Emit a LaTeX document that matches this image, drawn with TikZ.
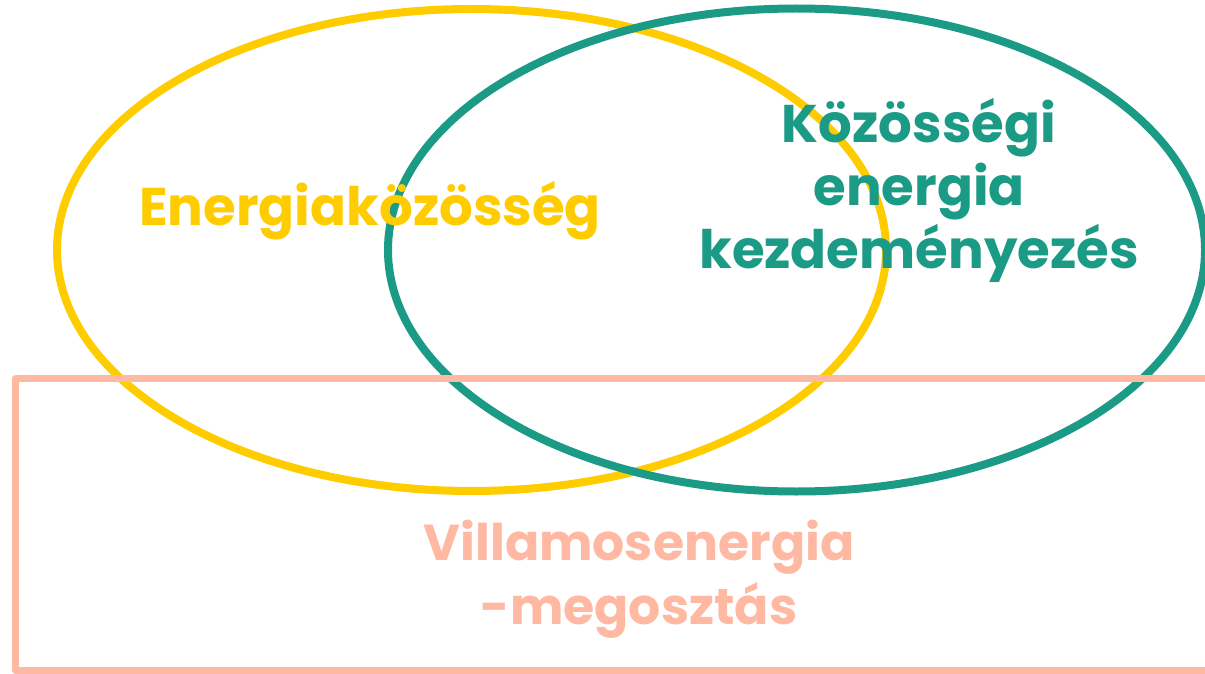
\documentclass[tikz,border=0pt]{standalone}
\usepackage{fontspec}
\setmainfont{Poppins}
\usepackage{tikz}
\usetikzlibrary{shapes.geometric,positioning}

\definecolor{sunyellow}{HTML}{FFCC00}
\definecolor{seateal}{HTML}{1B9A86}
\definecolor{salmonpink}{HTML}{FFB8A2}

\begin{document}
\begin{tikzpicture}[x=1pt,y=-1pt,
	ring/.style={ellipse,draw,line width=8pt,inner sep=0pt,outer sep=0pt},
	label/.style={font=\bfseries\fontsize{53}{63}\selectfont,align=center,anchor=base,inner sep=0pt}]
	\useasboundingbox (0,0) rectangle (1205,674);

	\node [ring,draw=sunyellow,minimum width=829pt,minimum height=482pt] at (471.5,250) (ek) {};
	\node [ring,draw=seateal,minimum width=817pt,minimum height=483pt] at (796.5,250) (kek) {};
	\draw [salmonpink,line width=7pt,line join=round] (15.5,378.5) rectangle (1240,670.5);
	\coordinate (ves) at (639,624);

	\node [label,text=sunyellow] at (370,225) (tek) {Energiaközösség};
	\node [label,text=seateal] at (919,268) (tkek) {Közösségi\\energia\\kezdeményezés};
	\node [label,text=salmonpink,font=\bfseries\fontsize{50.5}{64}\selectfont] at (ves) (tves) {Villamosenergia\\-megosztás};
\end{tikzpicture}
\end{document}
